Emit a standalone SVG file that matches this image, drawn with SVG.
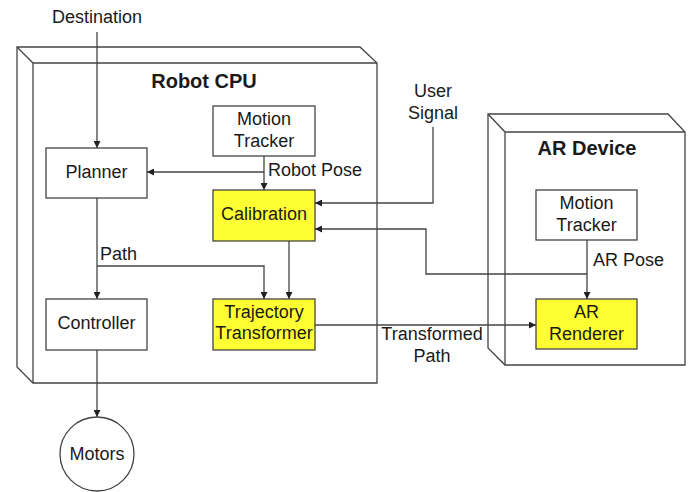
<svg xmlns="http://www.w3.org/2000/svg" width="691" height="492" viewBox="0 0 691 492">
  <style>
    .frame { fill: #ffffff; stroke: #444444; stroke-width: 1.3; }
    .box { fill: #ffffff; stroke: #444444; stroke-width: 1.3; }
    .hl { fill: #ffff33; stroke: #444444; stroke-width: 1.3; }
    .edge { fill: none; stroke: #444444; stroke-width: 1.3; marker-end: url(#arrow); }
    .line { fill: none; stroke: #444444; stroke-width: 1.3; }
    text { font-family: "Liberation Sans", Arial, sans-serif; font-size: 18px; fill: #1a1a1a; }
    .c { text-anchor: middle; }
    .title { font-weight: bold; font-size: 20px; }
  </style>
  <defs>
    <marker id="arrow" viewBox="0 0 10 10" refX="10" refY="5" markerWidth="7" markerHeight="7" markerUnits="userSpaceOnUse" orient="auto">
      <path d="M0,0 L10,5 L0,10 z" fill="#222222"/>
    </marker>
  </defs>
  <rect width="691" height="492" fill="#ffffff"/>

  <!-- Robot CPU container (3D box) -->
  <g id="robot-cpu">
    <path class="frame" d="M17,47 L360,47 L377,63 L377,383 L33,383 L17,367 Z"/>
    <path class="line" d="M17,47 L33,63 L377,63 M33,63 L33,383"/>
    <text class="c title" x="204" y="88">Robot CPU</text>
  </g>

  <!-- AR Device container (3D box) -->
  <g id="ar-device">
    <path class="frame" d="M488,114 L668,114 L685,132 L685,365 L505,365 L488,348 Z"/>
    <path class="line" d="M488,114 L505,132 L685,132 M505,132 L505,365"/>
    <text class="c title" x="587" y="155">AR Device</text>
  </g>

  <!-- Connectors -->
  <g id="connectors">
    <path class="edge" d="M97,32 L97,148"/>
    <path class="edge" d="M264,156 L264,190"/>
    <path class="edge" d="M264,172 L147,172"/>
    <path class="edge" d="M433,127 L433,203 L315,203"/>
    <path class="edge" d="M587,240 L587,299"/>
    <path class="edge" d="M587,274 L426,274 L426,229 L315,229"/>
    <path class="edge" d="M97,198 L97,299"/>
    <path class="edge" d="M97,266 L264,266 L264,299"/>
    <path class="edge" d="M289,241 L289,299"/>
    <path class="edge" d="M315,325 L536,325"/>
    <path class="edge" d="M97,350 L97,417"/>
  </g>

  <!-- Connector labels -->
  <g id="labels">
    <text class="c" x="97" y="23">Destination</text>
    <text x="268" y="176">Robot Pose</text>
    <text class="c" x="433" y="97">User</text>
    <text class="c" x="433" y="119">Signal</text>
    <text x="593" y="266">AR Pose</text>
    <text x="100" y="260">Path</text>
    <text class="c" x="432" y="340">Transformed</text>
    <text class="c" x="432" y="362">Path</text>
  </g>

  <g id="planner">
    <rect class="box" x="46" y="148" width="101" height="50"/>
    <text class="c" x="96.5" y="178">Planner</text>
  </g>

  <g id="robot-motion-tracker">
    <rect class="box" x="213" y="106" width="102" height="50"/>
    <text class="c" x="264" y="125">Motion</text>
    <text class="c" x="264" y="147">Tracker</text>
  </g>

  <g id="calibration">
    <rect class="hl" x="213" y="190" width="102" height="51"/>
    <text class="c" x="264" y="220">Calibration</text>
  </g>

  <g id="controller">
    <rect class="box" x="46" y="299" width="101" height="51"/>
    <text class="c" x="96.5" y="329">Controller</text>
  </g>

  <g id="trajectory-transformer">
    <rect class="hl" x="213" y="299" width="102" height="51"/>
    <text class="c" x="264" y="318">Trajectory</text>
    <text class="c" x="264" y="339">Transformer</text>
  </g>

  <g id="motors">
    <circle class="box" cx="97" cy="454" r="37"/>
    <text class="c" x="97" y="460">Motors</text>
  </g>

  <g id="ar-motion-tracker">
    <rect class="box" x="536" y="190" width="101" height="50"/>
    <text class="c" x="586.5" y="209">Motion</text>
    <text class="c" x="586.5" y="231">Tracker</text>
  </g>

  <g id="ar-renderer">
    <rect class="hl" x="536" y="299" width="101" height="50"/>
    <text class="c" x="586.5" y="318">AR</text>
    <text class="c" x="586.5" y="340">Renderer</text>
  </g>
</svg>
